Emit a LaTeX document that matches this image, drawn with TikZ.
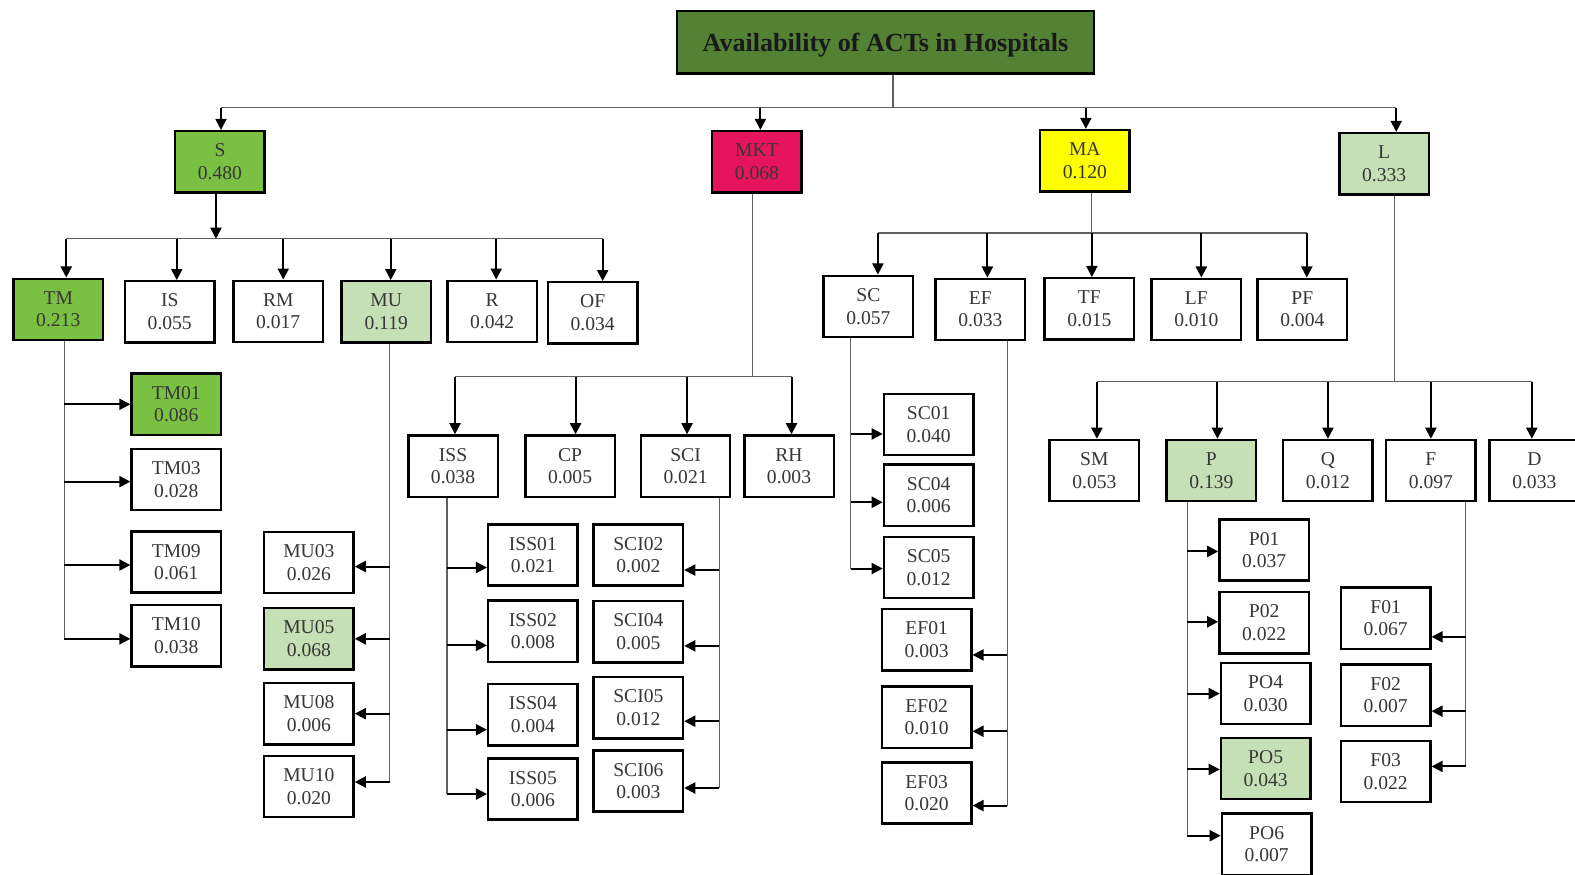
\documentclass[tikz,border=0pt]{standalone}
\usepackage{fontspec}
\setmainfont{Liberation Serif}
\usetikzlibrary{arrows.meta}

\definecolor{rootgreen}{RGB}{84,130,53}
\definecolor{stronggreen}{RGB}{122,192,66}
\definecolor{palegreen}{RGB}{197,224,180}
\definecolor{hotpink}{RGB}{230,20,92}
\definecolor{brightyellow}{RGB}{255,255,0}
\definecolor{labelgray}{RGB}{55,55,55}
\definecolor{linegray}{RGB}{95,95,95}

\tikzset{
  box/.style={draw=black, line width=2.4pt, fill=white, minimum width=89pt,
    minimum height=61pt, inner sep=0pt, align=center, text=labelgray,
    font=\fontsize{19.5}{22.5}\selectfont},
  rootbox/.style={draw=black, line width=2.6pt, fill=rootgreen, minimum width=415pt,
    minimum height=62pt, inner sep=0pt, text depth=0pt, text=black!90,
    font=\fontsize{26}{30}\selectfont\bfseries},
  bus/.style={draw=linegray, line width=1.2pt},
  arr/.style={draw=black, line width=2pt, -{Triangle[length=11pt,width=11pt]}},
}

\begin{document}
\begin{tikzpicture}[x=1pt, y=-1pt]
\useasboundingbox[fill=white] (0,0) rectangle (1568,871);

% ---------- root and first level ----------
\node[rootbox] (root) at (881.5,42) {Availability of ACTs in Hospitals};
\node[box, fill=stronggreen] (S)   at (219,161)   {S\\0.480};
\node[box, fill=hotpink]     (MKT) at (753.5,161) {MKT\\0.068};
\node[box, fill=brightyellow](MA)  at (1080,160)  {MA\\0.120};
\node[box, fill=palegreen]   (L)   at (1378,163)  {L\\0.333};

% ---------- S branch ----------
\node[box, fill=stronggreen] (TM) at (58,308)    {TM\\0.213};
\node[box]                   (IS) at (169,310.5) {IS\\0.055};
\node[box]                   (RM) at (277,310)   {RM\\0.017};
\node[box, fill=palegreen]   (MU) at (384.5,310.5) {MU\\0.119};
\node[box]                   (R)  at (490,310)   {R\\0.042};
\node[box]                   (OF) at (590,311.5) {OF\\0.034};

\node[box, fill=stronggreen] (TM01) at (175.5,402.5) {TM01\\0.086};
\node[box]                   (TM03) at (175.5,477.5) {TM03\\0.028};
\node[box]                   (TM09) at (175.5,559.5) {TM09\\0.061};
\node[box]                   (TM10) at (175.5,633)   {TM10\\0.038};

\node[box]                 (MU03) at (307.5,560)   {MU03\\0.026};
\node[box, fill=palegreen] (MU05) at (307.5,636)   {MU05\\0.068};
\node[box]                 (MU08) at (307.5,710.5) {MU08\\0.006};
\node[box]                 (MU10) at (307.5,783)   {MU10\\0.020};

% ---------- MKT branch ----------
\node[box] (ISS) at (451,464)   {ISS\\0.038};
\node[box] (CP)  at (567.5,464) {CP\\0.005};
\node[box] (SCI) at (682.5,464) {SCI\\0.021};
\node[box] (RH)  at (785.5,464) {RH\\0.003};

\node[box] (ISS01) at (530.5,552.5) {ISS01\\0.021};
\node[box] (ISS02) at (530.5,628.5) {ISS02\\0.008};
\node[box] (ISS04) at (530.5,711.5) {ISS04\\0.004};
\node[box] (ISS05) at (530.5,785.5) {ISS05\\0.006};

\node[box] (SCI02) at (635.5,552.5) {SCI02\\0.002};
\node[box] (SCI04) at (635.5,629)   {SCI04\\0.005};
\node[box] (SCI05) at (635.5,704.5) {SCI05\\0.012};
\node[box] (SCI06) at (635.5,777.5) {SCI06\\0.003};

% ---------- MA branch ----------
\node[box] (SC) at (864.5,305)  {SC\\0.057};
\node[box] (EF) at (976,308)    {EF\\0.033};
\node[box] (TF) at (1084.5,307.5) {TF\\0.015};
\node[box] (LF) at (1191,308)   {LF\\0.010};
\node[box] (PF) at (1296.5,308) {PF\\0.004};

\node[box] (SC01) at (924.5,422.5) {SC01\\0.040};
\node[box] (SC04) at (924.5,493)   {SC04\\0.006};
\node[box] (SC05) at (924.5,565)   {SC05\\0.012};

\node[box] (EF01) at (922.5,637)   {EF01\\0.003};
\node[box] (EF02) at (922.5,714)   {EF02\\0.010};
\node[box] (EF03) at (922.5,789.5) {EF03\\0.020};

% ---------- L branch ----------
\node[box]                 (SM) at (1089.5,468.5) {SM\\0.053};
\node[box, fill=palegreen] (P)  at (1206,468.5)   {P\\0.139};
\node[box]                 (Q)  at (1322,468.5)   {Q\\0.012};
\node[box]                 (F)  at (1424.5,468.5) {F\\0.097};
\node[box]                 (D)  at (1527.5,468.5) {D\\0.033};

\node[box]                 (P01) at (1258.5,547.5) {P01\\0.037};
\node[box]                 (P02) at (1258.5,620)   {P02\\0.022};
\node[box]                 (PO4) at (1260,690.5)   {PO4\\0.030};
\node[box, fill=palegreen] (PO5) at (1260,765)     {PO5\\0.043};
\node[box]                 (PO6) at (1261,840.5)   {PO6\\0.007};

\node[box] (F01) at (1379.5,615.5) {F01\\0.067};
\node[box] (F02) at (1379.5,692)   {F02\\0.007};
\node[box] (F03) at (1379.5,768)   {F03\\0.022};

% ---------- connectors: root to first level ----------
\coordinate (rootfoot) at ([xshift=7.5pt]root.south);
\coordinate (topbus) at ([yshift=-33pt]rootfoot);
\coordinate (aS)   at ([xshift=1pt]S.north);
\coordinate (aMKT) at ([xshift=3.5pt]MKT.north);
\coordinate (aMA)  at ([xshift=1pt]MA.north);
\coordinate (aL)   at ([xshift=12pt]L.north);
\draw[bus] (rootfoot) -- (topbus);
\draw[bus] (aS |- topbus) -- (aL |- topbus);
\foreach \t in {aS,aMKT,aMA,aL} \draw[arr] (\t |- topbus) -- (\t);

% ---------- S to its criteria ----------
\coordinate (sfoot) at ([xshift=-4pt]S.south);
\coordinate (sbus) at ([yshift=-45pt]sfoot);
\draw[arr] (sfoot) -- (sbus);
\coordinate (aTM) at ([xshift=8pt]TM.north);
\coordinate (aIS) at ([xshift=7pt]IS.north);
\coordinate (aRM) at ([xshift=5pt]RM.north);
\coordinate (aMU) at ([xshift=4.5pt]MU.north);
\coordinate (aR)  at ([xshift=4pt]R.north);
\coordinate (aOF) at ([xshift=10pt]OF.north);
\draw[bus] (aTM |- sbus) -- (aOF |- sbus);
\foreach \t in {aTM,aIS,aRM,aMU,aR,aOF} \draw[arr] (\t |- sbus) -- (\t);

% TM sub-criteria
\coordinate (tmx) at ([xshift=6pt]TM.south);
\coordinate (aTM01) at (TM01.west);
\coordinate (aTM03) at ([yshift=-2pt]TM03.west);
\coordinate (aTM09) at ([yshift=-3pt]TM09.west);
\coordinate (aTM10) at ([yshift=-3pt]TM10.west);
\draw[bus] (tmx) -- (tmx |- aTM10);
\foreach \t in {aTM01,aTM03,aTM09,aTM10} \draw[arr] (tmx |- \t) -- (\t);

% MU sub-criteria
\coordinate (mux) at ([xshift=3.5pt]MU.south);
\coordinate (aMU03) at ([yshift=-4pt]MU03.east);
\coordinate (aMU05) at (MU05.east);
\coordinate (aMU08) at (MU08.east);
\coordinate (aMU10) at ([yshift=4.5pt]MU10.east);
\draw[bus] (mux) -- (mux |- aMU10);
\foreach \t in {aMU03,aMU05,aMU08,aMU10} \draw[arr] (mux |- \t) -- (\t);

% ---------- MKT to its criteria ----------
\coordinate (mktfoot) at ([xshift=-4.5pt]MKT.south);
\coordinate (mktbus) at (mktfoot |- 0,375);
\coordinate (aISS) at ([xshift=2pt]ISS.north);
\coordinate (aCP)  at ([xshift=5.5pt]CP.north);
\coordinate (aSCI) at ([xshift=1.5pt]SCI.north);
\coordinate (aRH)  at ([xshift=2.5pt]RH.north);
\draw[bus] (mktfoot) -- (mktbus);
\draw[bus] (aISS |- mktbus) -- (aRH |- mktbus);
\foreach \t in {aISS,aCP,aSCI,aRH} \draw[arr] (\t |- mktbus) -- (\t);

% ISS sub-criteria
\coordinate (issx) at ([xshift=-6pt]ISS.south);
\coordinate (aISS01) at ([yshift=-12.5pt]ISS01.west);
\coordinate (aISS02) at ([yshift=-14pt]ISS02.west);
\coordinate (aISS04) at ([yshift=-15pt]ISS04.west);
\coordinate (aISS05) at ([yshift=-5pt]ISS05.west);
\draw[bus] (issx) -- (issx |- aISS05);
\foreach \t in {aISS01,aISS02,aISS04,aISS05} \draw[arr] (issx |- \t) -- (\t);

% SCI sub-criteria
\coordinate (scix) at ([xshift=33.5pt]SCI.south);
\coordinate (aSCI02) at ([yshift=-15pt]SCI02.east);
\coordinate (aSCI04) at ([yshift=-14pt]SCI04.east);
\coordinate (aSCI05) at ([yshift=-13.5pt]SCI05.east);
\coordinate (aSCI06) at ([yshift=-7pt]SCI06.east);
\draw[bus] (scix) -- (scix |- aSCI06);
\foreach \t in {aSCI02,aSCI04,aSCI05,aSCI06} \draw[arr] (scix |- \t) -- (\t);

% ---------- MA to its criteria ----------
\coordinate (mafoot) at ([xshift=7pt]MA.south);
\coordinate (mabus) at (mafoot |- 0,232);
\coordinate (aSC) at ([xshift=9.5pt]SC.north);
\coordinate (aEF) at ([xshift=7pt]EF.north);
\coordinate (aTF) at ([xshift=2.5pt]TF.north);
\coordinate (aLF) at ([xshift=5pt]LF.north);
\coordinate (aPF) at ([xshift=4.5pt]PF.north);
\draw[bus] (mafoot) -- (mabus);
\draw[bus] (aSC |- mabus) -- (aPF |- mabus);
\foreach \t in {aSC,aEF,aTF,aLF,aPF} \draw[arr] (\t |- mabus) -- (\t);

% SC sub-criteria
\coordinate (scx) at ([xshift=-17.5pt]SC.south);
\coordinate (aSC01) at ([yshift=-9.5pt]SC01.west);
\coordinate (aSC04) at ([yshift=-7pt]SC04.west);
\coordinate (aSC05) at ([yshift=-1pt]SC05.west);
\draw[bus] (scx) -- (scx |- aSC05);
\foreach \t in {aSC01,aSC04,aSC05} \draw[arr] (scx |- \t) -- (\t);

% EF sub-criteria
\coordinate (efx) at ([xshift=27pt]EF.south);
\coordinate (aEF01) at ([yshift=-15pt]EF01.east);
\coordinate (aEF02) at ([yshift=-14pt]EF02.east);
\coordinate (aEF03) at ([yshift=-12.5pt]EF03.east);
\draw[bus] (efx) -- (efx |- aEF03);
\foreach \t in {aEF01,aEF02,aEF03} \draw[arr] (efx |- \t) -- (\t);

% ---------- L to its criteria ----------
\coordinate (lfoot) at ([xshift=10pt]L.south);
\coordinate (lbus) at (lfoot |- 0,380);
\coordinate (aSM) at ([xshift=2.5pt]SM.north);
\coordinate (aP)  at ([xshift=6pt]P.north);
\coordinate (aQ)  at (Q.north);
\coordinate (aF)  at (F.north);
\coordinate (aD)  at ([xshift=-2.5pt]D.north);
\draw[bus] (lfoot) -- (lbus);
\draw[bus] (aSM |- lbus) -- (aD |- lbus);
\foreach \t in {aSM,aP,aQ,aF,aD} \draw[arr] (\t |- lbus) -- (\t);

% P sub-criteria
\coordinate (px) at ([xshift=-24pt]P.south);
\coordinate (aP01) at ([yshift=-1.5pt]P01.west);
\coordinate (aP02) at ([yshift=1pt]P02.west);
\coordinate (aPO4) at (PO4.west);
\coordinate (aPO5) at ([yshift=-1pt]PO5.west);
\coordinate (aPO6) at ([yshift=8.5pt]PO6.west);
\draw[bus] (px) -- (px |- aPO6);
\foreach \t in {aP01,aP02,aPO4,aPO5,aPO6} \draw[arr] (px |- \t) -- (\t);

% F sub-criteria
\coordinate (fx) at ([xshift=34.5pt]F.south);
\coordinate (aF01) at ([yshift=-18.5pt]F01.east);
\coordinate (aF02) at ([yshift=-16pt]F02.east);
\coordinate (aF03) at ([yshift=5pt]F03.east);
\draw[bus] (fx) -- (fx |- aF03);
\foreach \t in {aF01,aF02,aF03} \draw[arr] (fx |- \t) -- (\t);

\end{tikzpicture}
\end{document}
